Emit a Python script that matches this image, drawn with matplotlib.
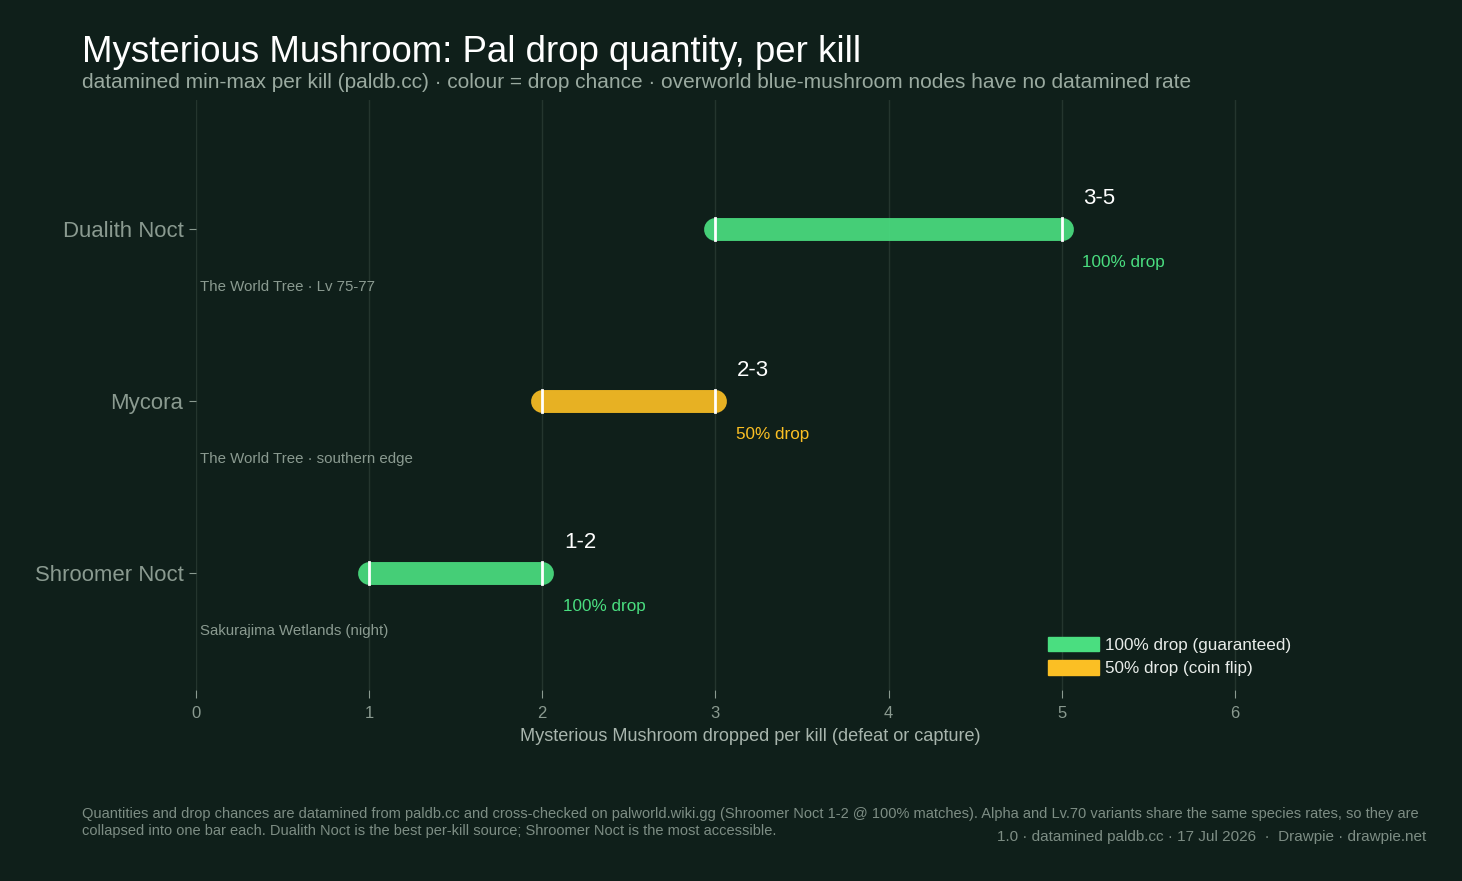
import matplotlib.pyplot as plt
from matplotlib.patches import Patch

pals = ["Shroomer Noct", "Mycora", "Dualith Noct"]
qty_min = [1, 2, 3]
qty_max = [2, 3, 5]
drop_chance = [100, 50, 100]
locations = ["Sakurajima Wetlands (night)", "The World Tree · southern edge", "The World Tree · Lv 75-77"]

BG = "#0f1f1a"
GREEN = "#4ade80"
YELLOW = "#fbbf24"
MUTED = "#8a9a90"
FONT = ["Liberation Sans", "DejaVu Sans"]

plt.rcParams["font.family"] = FONT

fig = plt.figure(figsize=(14.62, 8.81), dpi=100, facecolor=BG)
# x = 0 sits at px 196, x = 6 at px 1235; axes run a bit past 6
ax = fig.add_axes([196 / 1462, 1 - 690 / 881, (1304 - 196) / 1462, 590 / 881])
ax.set_facecolor(BG)

for i, name in enumerate(pals):
    col = GREEN if drop_chance[i] == 100 else YELLOW
    ax.plot([qty_min[i], qty_max[i]], [i, i], color=col, lw=16.5, alpha=0.92,
            solid_capstyle="round", zorder=3)
    for v in (qty_min[i], qty_max[i]):
        ax.plot([v, v], [i - 0.065, i + 0.065], color="white", lw=2, zorder=4)
    ax.text(qty_max[i] + 0.125, i + 0.18, f"{qty_min[i]}-{qty_max[i]}", color="white",
            fontsize=16, va="center", ha="left")
    ax.text(qty_max[i] + 0.12, i - 0.195, f"{drop_chance[i]}% drop", color=col,
            fontsize=12.3, va="center", ha="left")
    ax.text(0.022, i - 0.335, locations[i], color=MUTED, fontsize=10.8, va="center", ha="left")

ax.set_xlim(0, 6.4)
ax.set_ylim(-0.68, 2.75)
ax.set_xticks(range(7))
ax.set_yticks(range(len(pals)))
ax.set_yticklabels(pals)
ax.grid(axis="x", color="#24352e", lw=1, zorder=0)
ax.set_axisbelow(True)
for s in ax.spines.values():
    s.set_visible(False)
ax.tick_params(axis="y", colors=MUTED, labelsize=15.9, length=5, pad=4)
ax.tick_params(axis="x", colors=MUTED, labelsize=12, length=6, pad=5.5)
for t in ax.get_xticklabels() + ax.get_yticklabels():
    t.set_color(MUTED)
ax.set_xlabel("Mysterious Mushroom dropped per kill (defeat or capture)", color="#a8b5ad",
              fontsize=13.1, labelpad=5)

handles = [Patch(color=GREEN, label="100% drop (guaranteed)"),
           Patch(color=YELLOW, label="50% drop (coin flip)")]
leg = fig.legend(handles=handles, loc="lower left", bbox_to_anchor=(1034 / 1462, 1 - 690 / 881),
                 frameon=False, fontsize=12.3, handlelength=3.0, handleheight=0.95,
                 handletextpad=0.35, labelspacing=0.42, borderpad=0.3)
for t in leg.get_texts():
    t.set_color("#e8ece9")

fig.text(82 / 1462, 1 - 52 / 881, "Mysterious Mushroom: Pal drop quantity, per kill",
         color="white", fontsize=26.4, va="center", ha="left")
fig.text(82 / 1462, 1 - 82.5 / 881,
         "datamined min-max per kill (paldb.cc) · colour = drop chance · overworld blue-mushroom nodes have no datamined rate",
         color="#9aaaa0", fontsize=15.0, va="center", ha="left")
fig.text(82 / 1462, 1 - 814 / 881,
         "Quantities and drop chances are datamined from paldb.cc and cross-checked on palworld.wiki.gg (Shroomer Noct 1-2 @ 100% matches). Alpha and Lv.70 variants share the same species rates, so they are",
         color="#7d8d84", fontsize=10.53, va="center", ha="left")
fig.text(82 / 1462, 1 - 831 / 881,
         "collapsed into one bar each. Dualith Noct is the best per-kill source; Shroomer Noct is the most accessible.",
         color="#7d8d84", fontsize=10.53, va="center", ha="left")
fig.text(1426 / 1462, 1 - 837 / 881,
         "1.0 · datamined paldb.cc · 17 Jul 2026  ·  Drawpie · drawpie.net",
         color="#7d8d84", fontsize=11.0, va="center", ha="right")

fig.savefig("out.png", dpi=100, facecolor=BG)
